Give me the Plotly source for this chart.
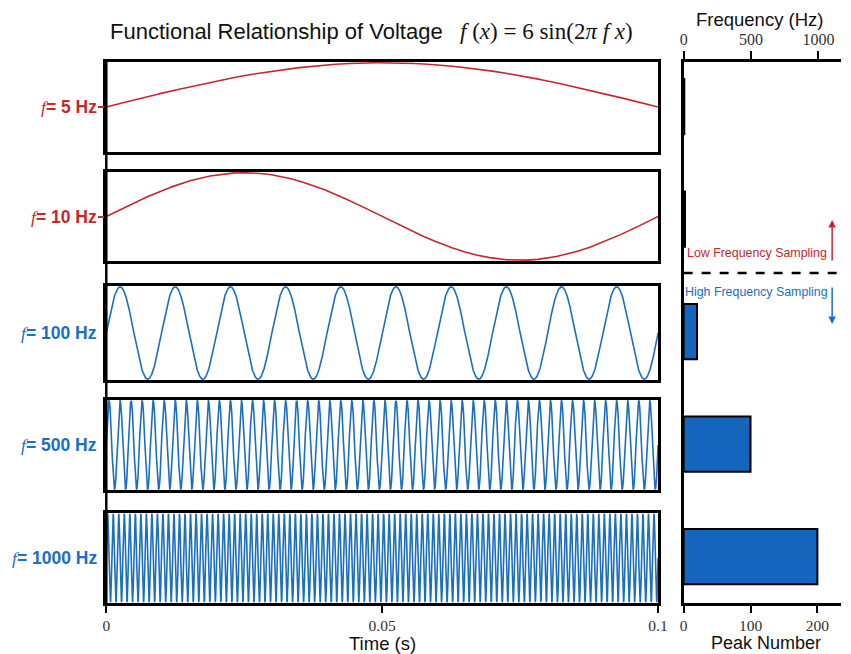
import numpy as np
import plotly.graph_objects as go

# ---- data ----
FREQS_HZ = [5, 10, 100, 500, 1000]
PANEL_LABELS = ["5 Hz", "10 Hz", "100 Hz", "500 Hz", "1000 Hz"]
AMPLITUDE_V = 6            # f(x) = 6 sin(2*pi*f*x)
DURATION_S = 0.1
PEAK_NUMBERS = [1, 2, 20, 100, 200]
TIME_TICKS = [0, 0.05, 0.1]
TIME_TICK_TEXT = ["0", "0.05", "0.1"]
PEAK_TICKS = [0, 100, 200]
FREQ_TICKS = [0, 500, 1000]
LOW_FREQS = [5, 10]

RED = "#c8262d"
BLUE = "#1b6fc2"
BAR_BLUE = "#1565bd"

W, H = 851, 654
def px(x): return x / W
def py(y): return 1 - y / H

panel_px = [(62, 152), (172, 261), (286, 380), (400, 490), (513, 603)]
LX0, LX1 = 104, 665
RX0 = 691
R_TOP, R_BOT = 62, 603

fig = go.Figure()
layout = dict(width=W, height=H, margin=dict(l=0, r=0, t=0, b=0),
              autosize=False, plot_bgcolor="white", paper_bgcolor="white",
              showlegend=False)

t = np.linspace(0, DURATION_S, 12001)
annotations = []
shapes = []
serif = "Liberation Serif"
sans = "Liberation Sans"

for i, (f, lab) in enumerate(zip(FREQS_HZ, PANEL_LABELS)):
    n = i + 1
    col = RED if f in LOW_FREQS else BLUE
    v = AMPLITUDE_V * np.sin(2 * np.pi * f * t)
    fig.add_trace(go.Scatter(x=t, y=v, mode="lines",
                             line=dict(color=col, width=1.6),
                             xaxis=f"x{n}", yaxis=f"y{n}", hoverinfo="skip"))
    top, bot = panel_px[i]
    last = (i == len(FREQS_HZ) - 1)
    layout[f"xaxis{n}"] = dict(
        domain=[px(LX0), px(LX1)], range=[0, DURATION_S], anchor=f"y{n}",
        showline=True, mirror=True, linecolor="black", linewidth=2.5,
        showgrid=False, zeroline=False,
        showticklabels=last, ticks="outside" if last else "",
        tickvals=TIME_TICKS, ticktext=TIME_TICK_TEXT, ticklen=7, tickwidth=2,
        tickcolor="black",
        tickfont=dict(family=serif, size=15.5, color="#333"))
    layout[f"yaxis{n}"] = dict(
        domain=[py(bot), py(top)], range=[-6.1, 6.1], anchor=f"x{n}",
        showline=True, mirror=True, linecolor="black", linewidth=2.5,
        showgrid=False, zeroline=False, showticklabels=False,
        tickvals=[0], ticks="outside" if f in LOW_FREQS else "",
        ticklen=6, tickwidth=1.5, tickcolor=col)
    annotations.append(dict(
        x=px(97), y=py((top + bot) / 2), xref="paper", yref="paper",
        xanchor="right", yanchor="middle", showarrow=False,
        text=f"<span style='font-family:{serif}'><i>f</i></span><b>= {lab}</b>",
        font=dict(family=sans, size=17.5, color=col)))

# continuous left spine across the gaps
shapes.append(dict(type="line", xref="paper", yref="paper",
                   x0=px(LX0), x1=px(LX0), y0=py(panel_px[-1][1]), y1=py(panel_px[0][0]),
                   line=dict(color="black", width=2.5)))

# ---- right panel: peak numbers ----
ypos = list(range(len(FREQS_HZ)))[::-1]
fig.add_trace(go.Bar(x=PEAK_NUMBERS, y=ypos, orientation="h", width=0.49,
                     marker=dict(color=BAR_BLUE, line=dict(color="black", width=2)),
                     xaxis="x6", yaxis="y6", hoverinfo="skip"))
fig.add_trace(go.Scatter(x=[0], y=[0], mode="markers", opacity=0,
                         xaxis="x7", yaxis="y6", hoverinfo="skip"))

peak_max = PEAK_TICKS[-1] * (W - RX0) / (827 - RX0)
freq_max = FREQ_TICKS[-1] * (W - RX0) / (828 - RX0)
layout["xaxis6"] = dict(domain=[px(RX0), 1], range=[0, peak_max], anchor="y6",
                        showline=True, linecolor="black", linewidth=2.5,
                        showgrid=False, zeroline=False, ticks="outside",
                        tickvals=PEAK_TICKS, ticklen=7, tickwidth=2, tickcolor="black",
                        tickfont=dict(family=serif, size=15.5, color="#333"))
layout["xaxis7"] = dict(range=[0, freq_max], overlaying="x6", anchor="y6", side="top",
                        showline=True, linecolor="black", linewidth=2.5,
                        showgrid=False, zeroline=False, ticks="outside",
                        tickvals=FREQ_TICKS, ticklen=8, tickwidth=2, tickcolor="black",
                        tickfont=dict(family=serif, size=16, color="#333"))
layout["yaxis6"] = dict(domain=[py(R_BOT), py(R_TOP)], range=[-0.412, 4.396],
                        anchor="x6", showline=True, linecolor="black", linewidth=2.5,
                        showgrid=False, zeroline=False, showticklabels=False, ticks="")

# dashed separator
shapes.append(dict(type="line", xref="paper", yref="paper",
                   x0=px(RX0), x1=1, y0=py(273), y1=py(273),
                   line=dict(color="black", width=2.5, dash="dash")))

def note(x, y, text, size, color, family=sans, xanchor="center"):
    return dict(x=px(x), y=py(y), xref="paper", yref="paper", showarrow=False,
                xanchor=xanchor, yanchor="middle", text=text,
                font=dict(family=family, size=size, color=color))

annotations += [
    note(766, 253, "Low Frequency Sampling", 12.4, RED),
    note(765, 292, "High Frequency Sampling", 12.4, BLUE),
    dict(x=px(842), y=py(220), xref="paper", yref="paper", showarrow=True,
         ax=0, ay=42, arrowhead=2, arrowsize=1, arrowwidth=1.5, arrowcolor=RED, text=""),
    dict(x=px(842), y=py(324), xref="paper", yref="paper", showarrow=True,
         ax=0, ay=-38, arrowhead=2, arrowsize=1, arrowwidth=1.5, arrowcolor=BLUE, text=""),
    note(106, 32, "Functional Relationship of Voltage", 22, "#111", xanchor="left"),
    note(462, 32, "<i>f</i> (<i>x</i>) = 6 sin(2<i>π f x</i>)", 23, "#111",
         family=serif, xanchor="left"),
    note(385, 643, "Time (s)", 18.5, "#111"),
    note(775, 643, "Peak Number", 18, "#111"),
    note(768, 19, "Frequency (Hz)", 18.5, "#111"),
]

layout["annotations"] = annotations
layout["shapes"] = shapes
fig.update_layout(**layout)
fig.write_html(
    "out.html",
    config={"displayModeBar": False, "responsive": False},
    post_script=("document.documentElement.style.margin='0';"
                 "document.documentElement.style.overflow='hidden';"
                 "document.body.style.margin='0';document.body.style.padding='0';"
                 "document.body.style.overflow='hidden';"))
